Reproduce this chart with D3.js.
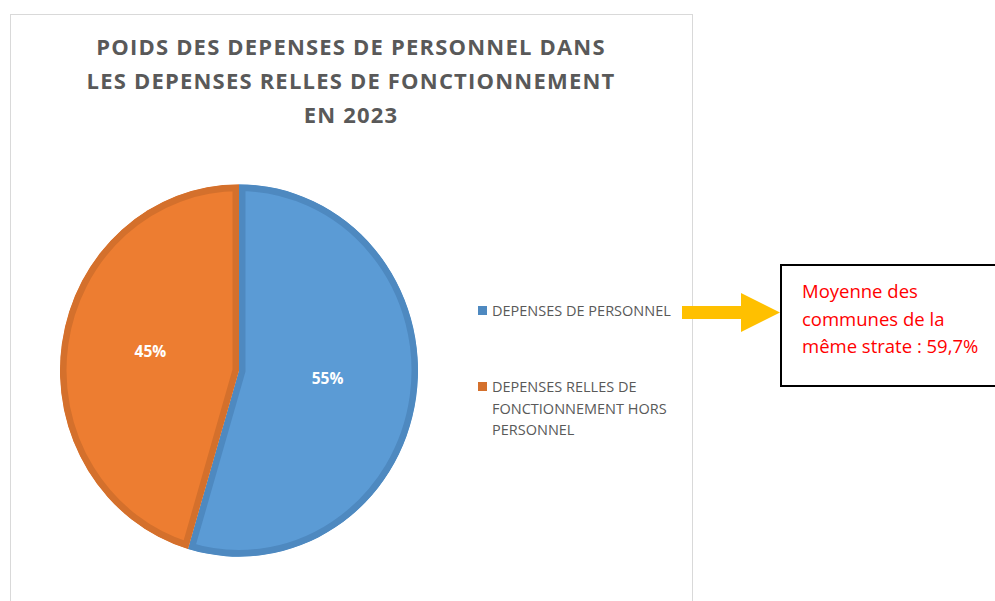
<!DOCTYPE html>
<html>
<head>
<meta charset="utf-8">
<script src="https://cdn.jsdelivr.net/npm/d3@7"></script>
<style>
  body { margin: 0; background: #fff; }
  svg { display: block; }
</style>
</head>
<body>
<div id="chart"></div>
<script>
// data
const categories = ["DEPENSES DE PERSONNEL", "DEPENSES RELLES DE FONCTIONNEMENT HORS PERSONNEL"];
const shares = [54.6, 45.4];
const legendLines = [["DEPENSES DE PERSONNEL"], ["DEPENSES RELLES DE", "FONCTIONNEMENT HORS", "PERSONNEL"]];
const titleLines = ["POIDS DES DEPENSES DE PERSONNEL DANS", "LES DEPENSES RELLES DE FONCTIONNEMENT", "EN 2023"];
const noteLines = ["Moyenne des", "communes de la", "même strate : 59,7%"];

const fills = ["#5b9bd5", "#ed7d31"];
const borders = ["#4e89c0", "#d4702c"];

const width = 995, height = 601;
const svg = d3.select("#chart").append("svg")
    .attr("width", width)
    .attr("height", height);

// chart frame
svg.append("rect")
    .attr("x", 10.5).attr("y", 14.5)
    .attr("width", 682).attr("height", 620)
    .attr("fill", "#fff")
    .attr("stroke", "#d9d9d9");

// title
svg.append("g").selectAll("text").data(titleLines).enter().append("text")
    .attr("x", 351)
    .attr("y", (d, i) => 55 + i * 34)
    .attr("text-anchor", "middle")
    .style("font-family", "'Open Sans', sans-serif")
    .style("font-weight", "bold")
    .style("font-size", "22px")
    .style("letter-spacing", "1.2px")
    .style("fill", "#595959")
    .text(d => d);

// pie
const cx = 239, cy = 370.5, r = 179, sy = 1.04;
const pie = d3.pie().sort(null).value(d => d);
const arcs = pie(shares);
const arc = d3.arc().innerRadius(0).outerRadius(r);

const pieG = svg.append("g")
    .attr("transform", `translate(${cx},${cy}) scale(1,${sy})`);

const defs = svg.append("defs");
arcs.forEach((a, i) => {
  defs.append("clipPath").attr("id", "clip" + i)
    .append("path").attr("d", arc(a));
});

pieG.selectAll("path.slice").data(arcs).enter().append("path")
    .attr("class", "slice")
    .attr("d", arc)
    .attr("clip-path", (d, i) => `url(#clip${i})`)
    .attr("fill", (d, i) => fills[i])
    .attr("stroke", (d, i) => borders[i])
    .attr("stroke-width", 13)
    .attr("stroke-linejoin", "miter");

// data labels
const labelArc = d3.arc().innerRadius(r * 0.5).outerRadius(r * 0.5);
const pct = d3.format(".0%");
const total = d3.sum(shares);
svg.append("g").selectAll("text").data(arcs).enter().append("text")
    .attr("x", d => cx + labelArc.centroid(d)[0])
    .attr("y", d => cy + labelArc.centroid(d)[1] * sy)
    .attr("text-anchor", "middle")
    .style("font-family", "'Open Sans', sans-serif")
    .style("font-weight", "bold")
    .style("font-size", "15.5px")
    .style("fill", "#fff")
    .text(d => pct(d.value / total));

// legend
const legendY = [316, 392];
const legend = svg.append("g");
categories.forEach((c, i) => {
  legend.append("rect")
      .attr("x", 478).attr("y", legendY[i] - 10)
      .attr("width", 9).attr("height", 9)
      .attr("fill", borders[i]);
  legend.append("text")
      .attr("x", 492).attr("y", legendY[i])
      .style("font-family", "'Open Sans', sans-serif")
      .style("font-size", "14.5px")
      .style("fill", "#595959")
      .selectAll("tspan").data(legendLines[i]).enter().append("tspan")
      .attr("x", 492)
      .attr("dy", (d, j) => j === 0 ? 0 : 21.5)
      .text(d => d);
});

// arrow
svg.append("path")
    .attr("d", "M682,306 L741,306 L741,293 L780,312.5 L741,332 L741,319 L682,319 Z")
    .attr("fill", "#ffc000");

// note box
svg.append("rect")
    .attr("x", 781).attr("y", 265)
    .attr("width", 230).attr("height", 121)
    .attr("fill", "#fff")
    .attr("stroke", "#000")
    .attr("stroke-width", 2);

svg.append("g").selectAll("text").data(noteLines).enter().append("text")
    .attr("x", 802)
    .attr("y", (d, i) => 298 + i * 27.5)
    .style("font-family", "'Open Sans', sans-serif")
    .style("font-size", "18.5px")
    .style("fill", "#ff0000")
    .text(d => d);
</script>
</body>
</html>
